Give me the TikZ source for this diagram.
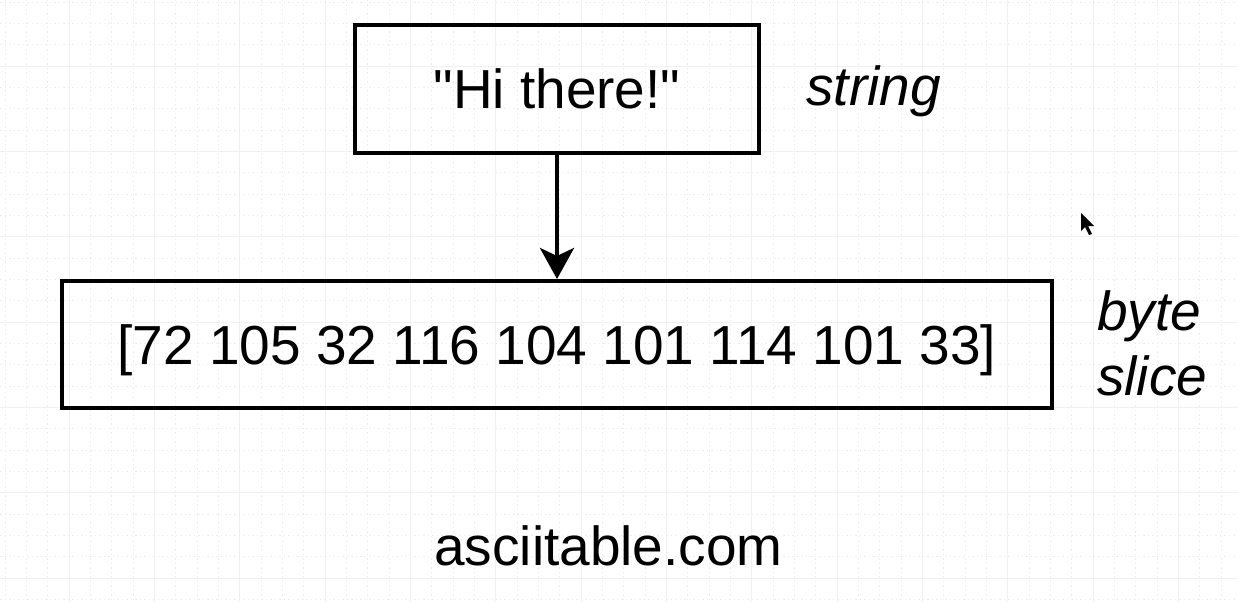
\documentclass[tikz,border=0pt]{standalone}
\usepackage{fontspec}
\setmainfont{Liberation Sans}[Ligatures=TeXOff]
\usetikzlibrary{arrows.meta}
\begin{document}
\begin{tikzpicture}[x=1pt,y=-1pt,
  bigtext/.style={font=\fontsize{55}{65}\selectfont},
  box/.style={draw=black, line width=4pt, bigtext, text height=39.5pt, text depth=0pt},
  label/.style={font=\fontsize{55}{65}\selectfont\itshape, inner sep=0pt},
  gridmajor/.style={draw=black!6, line width=1pt},
  gridminor/.style={draw=black!7, line width=0.8pt, dash pattern=on 1.5pt off 3pt}]
  % canvas
  \useasboundingbox[fill=white] (0,0) rectangle (1238,602);
  % background grid
  \foreach \i in {-4,...,60} {
    \draw[gridminor] ({-16.33+21.333*\i},0) -- ({-16.33+21.333*\i},602);
  }
  \foreach \i in {-4,...,30} {
    \draw[gridminor] (0,{-19.33+21.333*\i}) -- (1238,{-19.33+21.333*\i});
  }
  \foreach \i in {0,...,15} {
    \draw[gridmajor] ({-16.33+85.333*\i},0) -- ({-16.33+85.333*\i},602);
  }
  \foreach \i in {0,...,7} {
    \draw[gridmajor] (0,{-19.33+85.333*\i}) -- (1238,{-19.33+85.333*\i});
  }
  % boxes
  \node[box, minimum width=404pt, minimum height=127pt] (str) at (557,89)
    {"Hi there!"};
  \node[box, minimum width=990pt, minimum height=127pt] (bytes) at (557,344.5)
    {[72 105 32 116 104 101 114 101 33]};
  % conversion arrow
  \draw[line width=4.5pt, -{Stealth[length=31pt,width=34pt,inset=8pt]}] (str) -- (bytes);
  % side labels
  \node[label, anchor=base west] (strlbl) at (806,105) {string};
  \node[label, anchor=base west, align=left] (bslbl) at (1097,395) {byte\\slice};
  \node[bigtext, inner sep=0pt, anchor=base] (site) at (608.5,565) {asciitable.com};
  % mouse pointer
  \fill[black] (1081,213) -- (1081,231) -- (1085,227) -- (1089,235) -- (1092,234)
    -- (1088,226) -- (1094,226) -- cycle;
\end{tikzpicture}
\end{document}
